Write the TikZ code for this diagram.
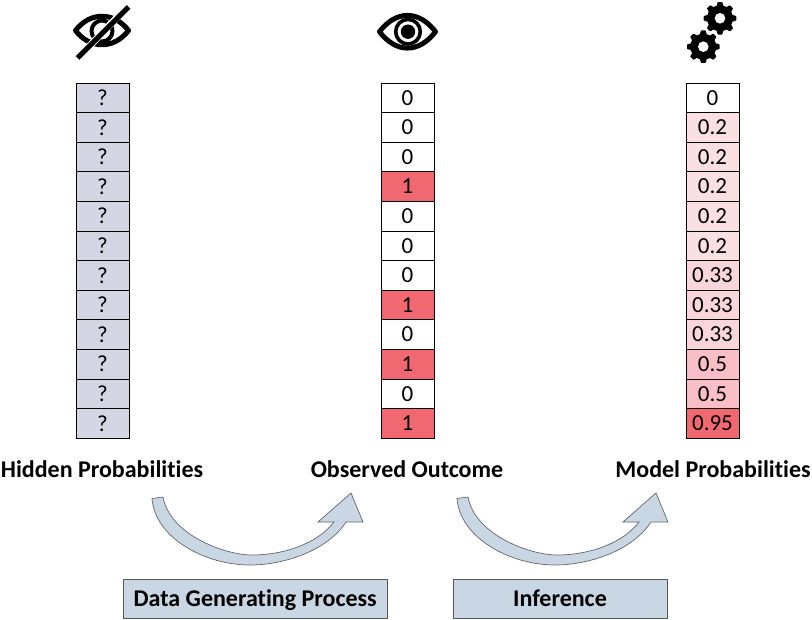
\documentclass[tikz,border=0pt]{standalone}
\usepackage{fontspec}
\setmainfont[Ligatures=NoCommon]{Carlito}
\definecolor{hidcol}{RGB}{213,214,227}
\definecolor{onecol}{RGB}{241,104,112}
\definecolor{lowcol}{RGB}{251,224,227}
\definecolor{midcol}{RGB}{250,214,219}
\definecolor{highcol}{RGB}{249,190,198}
\definecolor{boxcol}{RGB}{201,214,228}
\tikzset{
  cell/.style={draw=black, line width=0.8pt, minimum width=53pt, minimum height=29.6pt, inner sep=0pt, font=\fontsize{23}{23}\selectfont},
  title/.style={text height=18pt, text depth=3pt, font=\fontsize{24}{24}\selectfont\bfseries},
  caption/.style={draw=black!65, fill=boxcol, line width=0.8pt, minimum height=39pt, inner sep=0pt, text height=18pt, text depth=3pt, font=\fontsize{24}{24}\selectfont\bfseries},
  eyeline/.style={line width=5pt, line join=round}
}
\begin{document}
\begin{tikzpicture}[x=1pt, y=-1pt]
\useasboundingbox (0,0) rectangle (812,620);

% hidden column
\foreach \i in {0,...,11}
  \node[cell, fill=hidcol] (hid\i) at (102.5,{97.8+29.6*\i}) {?};

% observed column
\foreach \i/\v/\c in {0/0/white,1/0/white,2/0/white,3/1/onecol,4/0/white,5/0/white,6/0/white,7/1/onecol,8/0/white,9/1/onecol,10/0/white,11/1/onecol}
  \node[cell, fill=\c] (obs\i) at (407.5,{97.8+29.6*\i}) {\v};

% model column
\foreach \i/\v/\c in {0/0/white,1/0.2/lowcol,2/0.2/lowcol,3/0.2/lowcol,4/0.2/lowcol,5/0.2/lowcol,6/0.33/midcol,7/0.33/midcol,8/0.33/midcol,9/0.5/highcol,10/0.5/highcol,11/0.95/onecol}
  \node[cell, fill=\c] (mod\i) at (712.5,{97.8+29.6*\i}) {\v};

% column titles
\node[title] (hidtitle) at (102,470) {Hidden Probabilities};
\node[title] (obstitle) at (407,470) {Observed Outcome};
\node[title] (modtitle) at (713,470) {Model Probabilities};

% eye with slash
\draw[eyeline] (75.5,30.5) .. controls (90,11.5) and (114,11.5) .. (128.5,30.5) .. controls (114,49.5) and (90,49.5) .. (75.5,30.5) -- cycle;
\draw[line width=4pt] (102,31) circle (10.5);
\draw[white, line width=7pt] (79,57) -- (126,8);
\draw[line width=5pt] (77.5,58) -- (128.5,7);

% open eye
\draw[eyeline] (379.5,31.7) .. controls (396,10) and (419,10) .. (435.5,31.7) .. controls (419,53.5) and (396,53.5) .. (379.5,31.7) -- cycle;
\draw[line width=3.6pt] (408,31.7) circle (12.3);
\fill (408,31.7) circle (7.2);

% gears
\foreach \gx/\gy in {720/18.3,703.3/46.7} {
  \fill[shift={(\gx,\gy)}] plot[domain=0:360, samples=289] (\x:{14.6+max(-1.7,min(1.7,3.5*cos(8*\x)))}) -- cycle;
  \fill[white] (\gx,\gy) circle (5.3);
}

% curved arrows
\foreach \dx in {0,305} {
  \draw[shift={(\dx,0)}, draw=black!60, fill=boxcol, line width=0.7pt] (152,498.5) -- (163,497)
    .. controls (170,535) and (225,555) .. (252,555)
    .. controls (285,555) and (318,543) .. (334,522) -- (318,522) -- (351,493) -- (363,522) -- (346,522)
    .. controls (328,550) and (285,565) .. (250,565)
    .. controls (205,565) and (155,538) .. (152,498.5) -- cycle;
}

% captions
\node[caption, minimum width=264pt] (datagen) at (255.2,598.5) {Data Generating Process};
\node[caption, minimum width=214pt] (infer) at (560,598.5) {Inference};
\end{tikzpicture}
\end{document}
